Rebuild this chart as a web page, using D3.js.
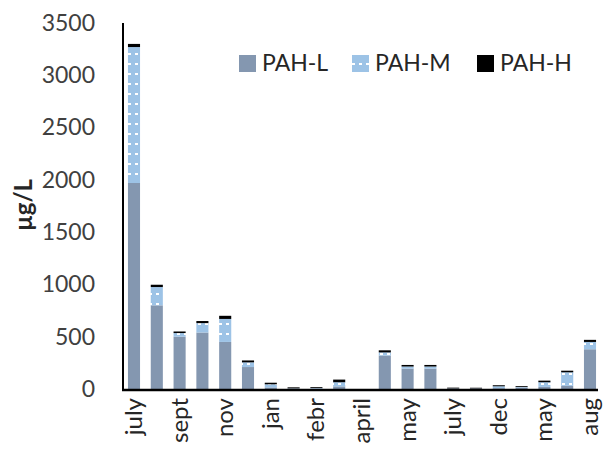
<!DOCTYPE html>
<html>
<head>
<meta charset="utf-8">
<script src="https://cdn.jsdelivr.net/npm/d3@7"></script>
<style>
  html, body { margin: 0; padding: 0; background: #fff; }
  svg { display: block; font-family: Lato, "Open Sans", sans-serif; }
</style>
</head>
<body>
<svg id="chart" width="606" height="456"></svg>
<script>
// ---- data ----
const categories = ["july","aug","sept","oct","nov","dec","jan","jan b","febr","march","april","april b","may","june","july","aug b","dec","jan c","may","june b","aug"];
const shownLabels = ["july","","sept","","nov","","jan","","febr","","april","","may","","july","","dec","","may","","aug"];
const pahL = [1970, 800, 500, 540, 450, 210, 15, 3, 5, 25, 0, 320, 195, 195, 3, 3, 8, 15, 20, 30, 380];
const pahM = [1300, 175, 35, 90, 220, 45, 30, 3, 5, 40, 0, 30, 20, 20, 2, 2, 18, 5, 45, 130, 70];
const pahH = [30, 22, 15, 20, 30, 18, 15, 10, 8, 25, 0, 20, 15, 15, 8, 7, 10, 8, 15, 15, 20];
const seriesNames = ["PAH-L", "PAH-M", "PAH-H"];
const yTicks = [0, 500, 1000, 1500, 2000, 2500, 3000, 3500];

// ---- layout ----
const svg = d3.select("#chart");
const x = d3.scaleBand().domain(d3.range(categories.length)).range([122.6, 601.4]).paddingInner(0.47).paddingOuter(0.235);
const y = d3.scaleLinear().domain([0, 3500]).range([389, 23]);

const defs = svg.append("defs");
const pat = defs.append("pattern").attr("id", "mpat").attr("patternUnits", "userSpaceOnUse")
  .attr("width", 7).attr("height", 10);
pat.append("rect").attr("width", 7).attr("height", 10).attr("fill", "#9dc3e6");
pat.append("rect").attr("x", 2).attr("y", 3).attr("width", 3).attr("height", 2).attr("fill", "#ffffff");

const fills = ["#8497b0", "url(#mpat)", "#000000"];

const table = categories.map((c, i) => ({ i, "PAH-L": pahL[i], "PAH-M": pahM[i], "PAH-H": pahH[i] }));
const stacked = d3.stack().keys(seriesNames)(table);

svg.append("g").selectAll("g").data(stacked).join("g")
  .attr("fill", (d, k) => fills[k])
  .selectAll("rect").data(d => d).join("rect")
  .attr("x", d => x(d.data.i))
  .attr("width", x.bandwidth())
  .attr("y", d => y(d[1]))
  .attr("height", d => Math.max(0, y(d[0]) - y(d[1])));

// y axis
const yAxis = d3.axisLeft(y).tickValues(yTicks).tickSize(0).tickPadding(28).tickFormat(d3.format("d"));
const gy = svg.append("g").attr("transform", "translate(123,0)").call(yAxis);
gy.select(".domain").remove();
gy.selectAll("text").attr("font-size", 23).attr("fill", "#404040").attr("font-family", "Lato, sans-serif");
svg.append("line").attr("x1", 123).attr("x2", 123).attr("y1", 23).attr("y2", 390.5)
  .attr("stroke", "#000").attr("stroke-width", 2);

// x axis
const xAxis = d3.axisBottom(x).tickSize(0).tickFormat(i => shownLabels[i]);
const gx = svg.append("g").attr("transform", "translate(0,390)").call(xAxis);
gx.select(".domain").remove();
gx.selectAll("text").attr("font-size", 24).attr("fill", "#262626").attr("font-family", "Lato, sans-serif")
  .attr("text-anchor", "end").attr("dy", null)
  .attr("transform", "translate(8,8) rotate(-90)").attr("x", 0).attr("y", 0);
svg.append("line").attr("x1", 122).attr("x2", 598).attr("y1", 390).attr("y2", 390)
  .attr("stroke", "#000").attr("stroke-width", 2.5);

// y label
svg.append("text").attr("transform", "translate(32,205) rotate(-90)").attr("text-anchor", "middle")
  .attr("font-size", 24).attr("font-weight", "bold").attr("fill", "#262626").text("µg/L");

// legend
const legendX = [239, 352, 477];
const lg = svg.append("g");
seriesNames.forEach((s, k) => {
  lg.append("rect").attr("x", legendX[k]).attr("y", 55).attr("width", 17).attr("height", 17).attr("fill", fills[k]);
  lg.append("text").attr("x", legendX[k] + 23).attr("y", 71).attr("font-size", 23).attr("fill", "#262626").text(s);
});
</script>
</body>
</html>
